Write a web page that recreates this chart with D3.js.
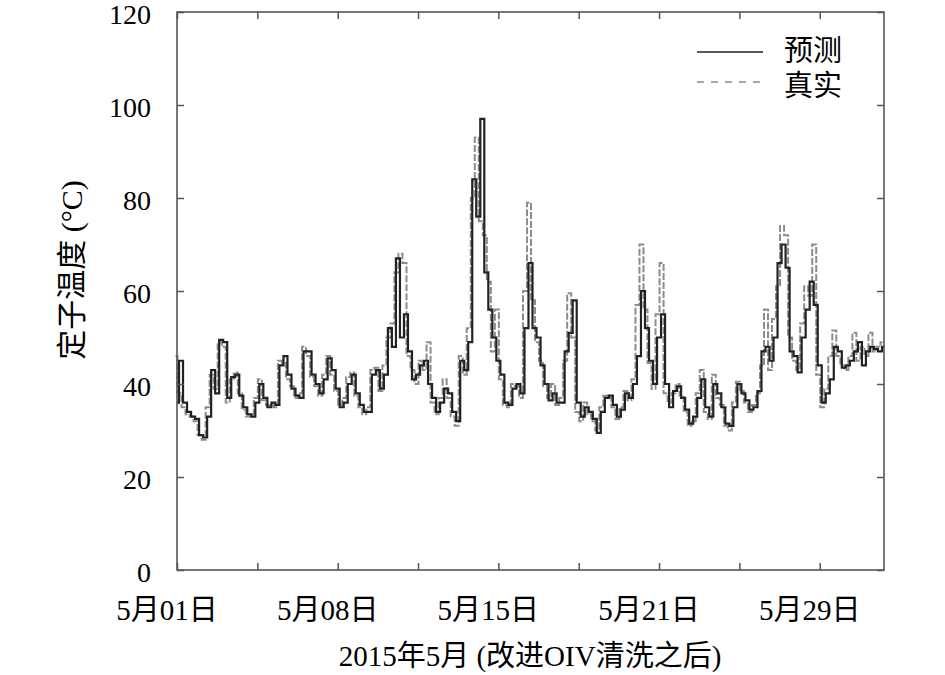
<!DOCTYPE html>
<html>
<head>
  <meta charset="utf-8">
  <title>定子温度</title>
  <style>
    body { margin: 0; background: #fff; }
    text { font-family: "Liberation Serif", "Noto Sans CJK SC", serif; fill: #000; }
    .tick line { stroke: #555; stroke-width: 1.5; }
  </style>
</head>
<body>
  <svg width="945" height="675"></svg>
  <script src="https://d3js.org/d3.v7.min.js"></script>
  <script>
    // one sample every 5 index units, index 0..880
    const sampleStep = 5;

    // 真实 (measured stator temperature, °C)
    const actual = [
      46, 38, 35, 33.5, 33, 32, 29, 28, 35, 42, 39, 49, 48, 36, 41, 42.5, 38, 34.5, 33, 33.5,
      37, 41, 36.5, 35.5, 35.5, 35, 45, 44.5, 41, 39.5, 37, 38, 48, 46, 41.5, 39.5, 37.5, 42, 46, 42,
      38.5, 35.5, 37, 41.5, 42.5, 37.5, 35, 33.5, 35, 43, 43.5, 38.5, 44, 50, 53, 64, 68, 66, 46, 43,
      40, 45, 43, 49, 36, 33.5, 37, 41, 37, 33, 31, 46, 42, 52, 80, 93, 75, 72, 62, 47,
      56, 41, 35.5, 35, 40, 39.5, 37, 60, 79, 58, 49, 45, 39.5, 37, 40, 35.5, 37, 45, 59.5, 50,
      34, 32, 36, 33.5, 32, 30, 35, 37.5, 37, 35, 32.5, 35, 38.5, 36.5, 41, 57, 70, 56, 44.5, 39,
      55, 66, 38, 36, 38, 40, 37.5, 34, 31, 32, 38, 43, 34, 32.5, 42, 37, 35.5, 31, 30, 36,
      40.5, 38.5, 36, 34, 35.5, 38, 44, 56, 43, 54, 61, 74, 72, 50, 45, 43, 53, 61, 59, 70,
      42, 35, 39, 46, 51.5, 46, 44, 43, 46, 51, 45, 48, 46, 51, 47, 48, 49
    ];

    // 预测 (predicted stator temperature, °C)
    const predicted = [
      36, 45, 36, 34, 33, 32.5, 29, 28.5, 33, 43, 38, 49.5, 49, 37, 41.5, 42, 37.5, 35, 33.5, 33,
      36, 40, 37, 35, 36, 35.5, 44, 46, 42, 39, 37.5, 37, 47, 47, 42, 40, 38, 41, 45.5, 43,
      39, 35, 36, 40, 42, 38, 35.5, 34, 34, 42, 43, 39, 42, 52, 48, 67, 50, 55, 47, 41,
      42, 44, 45, 40, 37, 34, 36, 39, 38, 34, 32, 45, 43, 49, 84, 76, 97, 64, 56, 50,
      45, 42, 36, 35.5, 39, 40, 38, 52, 66, 52, 50, 44, 40, 36.5, 38, 36, 36, 47, 51, 58,
      36, 33, 35, 34, 32.5, 29.5, 34, 37, 37.5, 35.5, 33, 34.5, 38, 37, 40, 46, 60, 52, 45, 40,
      50, 55, 40, 35, 38.5, 39.5, 37, 34.5, 31.5, 33, 37, 41, 35, 33, 40, 38, 35, 31.5, 31, 35,
      40, 38, 36.5, 34.5, 35, 38.5, 47, 48, 45, 50, 66, 70, 65, 47, 46, 42.5, 50, 56, 62, 57,
      44, 36, 38, 41, 48, 47, 43.5, 44, 45, 47, 49, 44, 47, 48, 47.5, 47, 48
    ];

    const yTicks = [0, 20, 40, 60, 80, 100, 120];
    const xTicks = [0, 100, 200, 300, 400, 500, 600, 700, 800];
    const xLabelIdx = [0, 200, 400, 600, 800];
    const xLabels = ["5月01日", "5月08日", "5月15日", "5月21日", "5月29日"];
    const seriesNames = ["预测", "真实"];

    const svg = d3.select("svg");
    const plotLeft = 177, plotRight = 884, plotTop = 12, plotBottom = 570;

    const x = d3.scaleLinear().domain([0, 880]).range([plotLeft, plotRight]);
    const y = d3.scaleLinear().domain([0, 120]).range([plotBottom, plotTop]);

    const line = d3.line()
      .curve(d3.curveStep)
      .x(function(d, i) { return x(i * sampleStep); })
      .y(function(d) { return y(d); });

    // measured series underneath, dashed grey
    svg.append("path")
      .datum(actual)
      .attr("fill", "none")
      .attr("stroke", "#8c8c8c")
      .attr("stroke-width", 2)
      .attr("stroke-dasharray", "7,2")
      .attr("transform", "translate(-1.5,0)")
      .attr("d", line);

    // prediction on top, solid dark
    svg.append("path")
      .datum(predicted)
      .attr("fill", "none")
      .attr("stroke", "#222")
      .attr("stroke-width", 2.2)
      .attr("d", line);

    // inward ticks on all four sides
    const tickLen = 7;
    svg.append("g")
      .attr("transform", "translate(0," + plotBottom + ")")
      .call(d3.axisBottom(x).tickValues(xTicks).tickSizeInner(-tickLen).tickSizeOuter(0).tickFormat(""))
      .call(g => g.select(".domain").remove());
    svg.append("g")
      .attr("transform", "translate(0," + plotTop + ")")
      .call(d3.axisTop(x).tickValues(xTicks).tickSizeInner(-tickLen).tickSizeOuter(0).tickFormat(""))
      .call(g => g.select(".domain").remove());
    svg.append("g")
      .attr("transform", "translate(" + plotLeft + ",0)")
      .call(d3.axisLeft(y).tickValues(yTicks).tickSizeInner(-tickLen).tickSizeOuter(0).tickFormat(""))
      .call(g => g.select(".domain").remove());
    svg.append("g")
      .attr("transform", "translate(" + plotRight + ",0)")
      .call(d3.axisRight(y).tickValues(yTicks).tickSizeInner(-tickLen).tickSizeOuter(0).tickFormat(""))
      .call(g => g.select(".domain").remove());

    // frame
    svg.append("rect")
      .attr("x", plotLeft).attr("y", plotTop)
      .attr("width", plotRight - plotLeft).attr("height", plotBottom - plotTop)
      .attr("fill", "none")
      .attr("stroke", "#555")
      .attr("stroke-width", 1.6);

    // y tick labels (baseline placed just under the tick)
    svg.selectAll(".ylab")
      .data(yTicks)
      .enter()
      .append("text")
      .attr("x", 151)
      .attr("y", d => y(d) + 12)
      .attr("text-anchor", "end")
      .attr("font-size", 28)
      .text(d => d);

    // x tick labels
    svg.selectAll(".xlab")
      .data(xLabelIdx)
      .enter()
      .append("text")
      .attr("x", d => x(d) - 10)
      .attr("y", 620)
      .attr("text-anchor", "middle")
      .attr("font-size", 29)
      .text((d, i) => xLabels[i]);

    // axis titles
    svg.append("text")
      .attr("x", 530)
      .attr("y", 666)
      .attr("text-anchor", "middle")
      .attr("font-size", 29)
      .text("2015年5月 (改进OIV清洗之后)");

    svg.append("text")
      .attr("transform", "translate(82,270) rotate(-90)")
      .attr("text-anchor", "middle")
      .attr("font-size", 30)
      .text("定子温度 (°C)");

    // legend
    const legend = svg.append("g");
    legend.append("line")
      .attr("x1", 697).attr("x2", 763).attr("y1", 52).attr("y2", 52)
      .attr("stroke", "#222").attr("stroke-width", 1.6);
    legend.append("line")
      .attr("x1", 697).attr("x2", 763).attr("y1", 82).attr("y2", 82)
      .attr("stroke", "#8a8a8a").attr("stroke-width", 1.6)
      .attr("stroke-dasharray", "7,7");
    legend.selectAll(".legtext")
      .data(seriesNames)
      .enter()
      .append("text")
      .attr("x", 784)
      .attr("y", (d, i) => 54 + i * 35)
      .attr("dominant-baseline", "middle")
      .attr("font-size", 29)
      .text(d => d);
  </script>
</body>
</html>
